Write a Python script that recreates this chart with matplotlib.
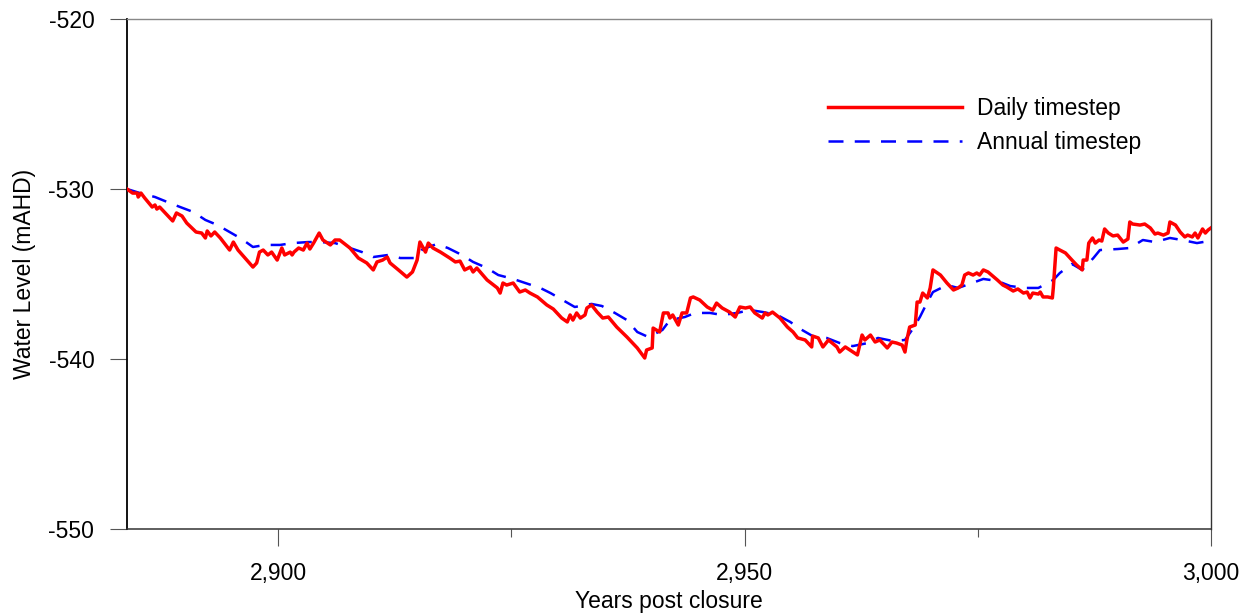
import numpy as np
import matplotlib
matplotlib.use("Agg")
import matplotlib.pyplot as plt
from matplotlib.ticker import FuncFormatter, MultipleLocator

plt.rcParams["font.family"] = ["Liberation Sans", "DejaVu Sans"]
plt.rcParams["axes.unicode_minus"] = False

# ----------------------------
# Data
# ----------------------------

daily_year = [
    2883.8, 2884.4, 2884.9, 2885.0, 2885.3, 2885.7, 2886.5, 2886.8, 2887.0, 2887.3,
    2887.9, 2888.7, 2889.1, 2889.7, 2890.2, 2891.2, 2891.8, 2892.2, 2892.4, 2892.8,
    2893.2, 2893.8, 2894.8, 2895.2, 2895.7, 2897.3, 2897.7, 2898.0, 2898.4, 2898.9,
    2899.3, 2899.9, 2900.4, 2900.7, 2901.3, 2901.5, 2901.7, 2902.2, 2902.7, 2903.1,
    2903.4, 2903.8, 2904.4, 2904.8, 2905.6, 2906.1, 2906.6, 2907.7, 2908.6, 2909.5,
    2910.2, 2910.6, 2911.2, 2911.7, 2912.0, 2912.9, 2913.8, 2914.4, 2914.9, 2915.2,
    2915.8, 2916.1, 2916.6, 2917.4, 2918.4, 2919.0, 2919.5, 2920.0, 2920.6, 2920.9,
    2921.3, 2922.4, 2923.5, 2923.8, 2924.1, 2924.5, 2925.2, 2925.9, 2926.5, 2927.0,
    2927.8, 2928.8, 2929.5, 2930.4, 2931.0, 2931.3, 2931.6, 2932.0, 2932.4, 2932.9,
    2933.1, 2933.6, 2934.2, 2934.8, 2935.4, 2936.3, 2937.4, 2938.5, 2939.3, 2939.5,
    2940.1, 2940.2, 2940.9, 2941.3, 2941.8, 2942.0, 2942.3, 2942.9, 2943.3, 2943.8,
    2944.2, 2944.5, 2945.2, 2946.0, 2946.6, 2947.0, 2947.6, 2948.4, 2949.0, 2949.5,
    2950.1, 2950.6, 2951.1, 2951.9, 2952.2, 2952.5, 2953.0, 2953.8, 2954.6, 2955.2,
    2955.7, 2956.5, 2957.2, 2957.3, 2957.9, 2958.4, 2959.0, 2959.9, 2960.2, 2960.8,
    2961.3, 2962.1, 2962.6, 2962.9, 2963.5, 2964.0, 2964.5, 2965.3, 2965.8, 2966.3,
    2966.9, 2967.2, 2967.4, 2967.7, 2968.3, 2968.5, 2968.8, 2969.1, 2969.6, 2969.9,
    2970.2, 2971.0, 2971.7, 2972.4, 2972.9, 2973.3, 2973.6, 2974.0, 2974.5, 2974.9,
    2975.2, 2975.6, 2976.1, 2977.1, 2977.7, 2978.1, 2978.8, 2979.3, 2979.9, 2980.3,
    2980.6, 2980.9, 2981.5, 2981.7, 2982.0, 2982.5, 2983.0, 2983.1, 2983.4, 2983.8,
    2984.4, 2985.1, 2985.6, 2986.2, 2986.3, 2986.7, 2986.9, 2987.3, 2987.6, 2988.0,
    2988.3, 2988.6, 2989.0, 2989.5, 2990.0, 2990.6, 2991.1, 2991.3, 2991.6, 2992.4,
    2992.9, 2993.5, 2994.0, 2994.3, 2994.9, 2995.4, 2995.6, 2996.2, 2996.7, 2997.2,
    2997.5, 2998.0, 2998.3, 2998.6, 2999.1, 2999.4, 2999.7, 3000.0,
]
daily_level = [
    -530.00, -530.24, -530.24, -530.47, -530.24, -530.53, -531.06, -530.94, -531.18, -531.06,
    -531.41, -531.88, -531.41, -531.59, -532.00, -532.53, -532.59, -532.88, -532.47, -532.76,
    -532.53, -532.88, -533.59, -533.12, -533.59, -534.59, -534.35, -533.71, -533.59, -533.88,
    -533.71, -534.18, -533.47, -533.88, -533.71, -533.88, -533.71, -533.47, -533.59, -533.18,
    -533.53, -533.18, -532.59, -533.00, -533.29, -533.00, -533.00, -533.47, -534.06, -534.35,
    -534.76, -534.29, -534.18, -534.00, -534.35, -534.76, -535.18, -534.88, -534.18, -533.12,
    -533.71, -533.18, -533.47, -533.71, -534.06, -534.29, -534.24, -534.76, -534.59, -534.88,
    -534.65, -535.35, -535.82, -536.12, -535.53, -535.65, -535.53, -536.06, -535.94, -536.12,
    -536.35, -536.82, -537.06, -537.59, -537.82, -537.41, -537.71, -537.29, -537.59, -537.41,
    -537.00, -536.82, -537.24, -537.59, -537.53, -538.12, -538.71, -539.35, -539.94, -539.47,
    -539.35, -538.18, -538.41, -537.29, -537.29, -537.59, -537.41, -538.00, -537.29, -537.29,
    -536.41, -536.35, -536.53, -536.94, -537.12, -536.71, -537.00, -537.24, -537.53, -536.94,
    -537.00, -536.94, -537.29, -537.59, -537.29, -537.41, -537.24, -537.59, -538.12, -538.41,
    -538.76, -538.88, -539.29, -538.65, -538.76, -539.29, -538.88, -539.29, -539.59, -539.29,
    -539.47, -539.76, -538.59, -538.88, -538.59, -539.00, -538.88, -539.35, -539.00, -539.06,
    -539.18, -539.59, -538.88, -538.12, -538.00, -536.65, -536.65, -536.12, -536.41, -535.82,
    -534.76, -535.06, -535.53, -535.94, -535.82, -535.65, -535.06, -534.94, -535.06, -534.94,
    -535.06, -534.76, -534.88, -535.35, -535.65, -535.76, -536.00, -535.88, -536.12, -536.06,
    -536.41, -536.12, -536.18, -536.06, -536.35, -536.35, -536.41, -535.82, -533.47, -533.59,
    -533.76, -534.18, -534.47, -534.76, -534.18, -534.18, -533.18, -532.88, -533.18, -533.00,
    -533.06, -532.35, -532.59, -532.76, -532.71, -533.12, -532.94, -531.94, -532.06, -532.12,
    -532.06, -532.29, -532.65, -532.59, -532.71, -532.59, -531.94, -532.12, -532.53, -532.82,
    -532.71, -532.82, -532.59, -532.88, -532.35, -532.59, -532.41, -532.29,
]

annual_year = [
    2883.8, 2885.2, 2886.8, 2888.1, 2889.5, 2890.9, 2892.2, 2893.5, 2894.8, 2896.1,
    2897.3, 2898.6, 2900.2, 2901.6, 2903.2, 2904.5, 2906.1, 2907.7, 2909.0, 2910.2,
    2911.8, 2913.1, 2914.7, 2915.5, 2917.0, 2918.2, 2919.7, 2920.9, 2922.4, 2923.6,
    2925.2, 2926.5, 2928.1, 2929.2, 2930.5, 2931.8, 2933.6, 2934.7, 2936.1, 2937.4,
    2938.5, 2939.7, 2941.2, 2942.0, 2943.6, 2944.7, 2946.3, 2947.6, 2949.2, 2950.6,
    2952.0, 2953.5, 2954.9, 2956.0, 2957.3, 2958.8, 2960.2, 2961.6, 2963.2, 2964.3,
    2965.9, 2967.2, 2968.1, 2968.8, 2969.6, 2970.2, 2971.7, 2972.9, 2974.4, 2975.6,
    2977.1, 2978.5, 2980.1, 2981.5, 2983.1, 2983.8, 2985.1, 2986.2, 2987.4, 2988.1,
    2990.0, 2991.3, 2992.7, 2994.0, 2995.6, 2996.9, 2998.5, 2999.8,
]
annual_level = [
    -530.00, -530.24, -530.47, -530.76, -531.06, -531.35, -531.82, -532.12, -532.53, -532.94,
    -533.41, -533.29, -533.29, -533.18, -533.12, -533.12, -533.18, -533.47, -533.71, -534.00,
    -533.88, -534.06, -534.06, -533.53, -533.24, -533.47, -533.88, -534.29, -534.65, -535.06,
    -535.29, -535.53, -535.82, -536.12, -536.53, -536.94, -536.76, -536.88, -537.29, -537.71,
    -538.41, -538.71, -538.29, -537.71, -537.53, -537.29, -537.29, -537.41, -537.29, -537.12,
    -537.24, -537.41, -537.82, -538.24, -538.65, -538.76, -539.06, -539.24, -539.06, -538.76,
    -538.94, -538.88, -538.18, -537.53, -536.65, -536.06, -535.65, -535.82, -535.53, -535.29,
    -535.41, -535.71, -535.82, -535.82, -535.35, -534.94, -534.41, -534.76, -534.06, -533.59,
    -533.53, -533.47, -533.00, -533.12, -532.88, -533.00, -533.18, -533.06,
]

y_ticks = [-550, -540, -530, -520]
x_major = [2900, 2950, 3000]


def thousands(v, pos):
    return f"{v:,.0f}"


# ----------------------------
# Plot
# ----------------------------

FS = 16.5

fig = plt.figure(figsize=(12.55, 6.15), dpi=100)
ax = fig.add_axes([0.1012, 0.1398, 0.8637, 0.8293])

ax.plot(annual_year, annual_level, color="#0000ff", lw=1.8, ls=(0, (6, 4.5)),
        label="Annual timestep", zorder=2)
ax.plot(daily_year, daily_level, color="#ff0000", lw=2.5, label="Daily timestep", zorder=3)

ax.set_xlim(2883.8, 3000)
ax.set_ylim(-550, -520)
ax.set_yticks(y_ticks)
ax.set_xticks(x_major)
ax.xaxis.set_minor_locator(MultipleLocator(25))
ax.xaxis.set_major_formatter(FuncFormatter(thousands))

ax.tick_params(axis="both", which="major", direction="out", length=12.5, width=0.8,
               color="#555555", labelsize=FS, pad=11)
ax.tick_params(axis="x", which="minor", direction="out", length=6, width=0.8, color="#555555")

ax.spines["left"].set_color("black")
ax.spines["left"].set_linewidth(1.3)
ax.spines["bottom"].set_color("#333333")
ax.spines["bottom"].set_linewidth(1.1)
ax.spines["top"].set_color("#888888")
ax.spines["top"].set_linewidth(1.0)
ax.spines["right"].set_color("#333333")
ax.spines["right"].set_linewidth(1.0)

ax.set_xlabel("Years post closure", fontsize=FS, labelpad=4)
ax.set_ylabel("Water Level (mAHD)", fontsize=FS, labelpad=9)

handles, labels = ax.get_legend_handles_labels()
leg = ax.legend(handles[::-1], labels[::-1], loc="upper left",
                bbox_to_anchor=(0.66, 0.843), bbox_transform=fig.transFigure,
                frameon=False, fontsize=FS, handlelength=5.85, handletextpad=0.65,
                labelspacing=0.5, borderpad=0, borderaxespad=0)

fig.savefig("out.png", dpi=100)
